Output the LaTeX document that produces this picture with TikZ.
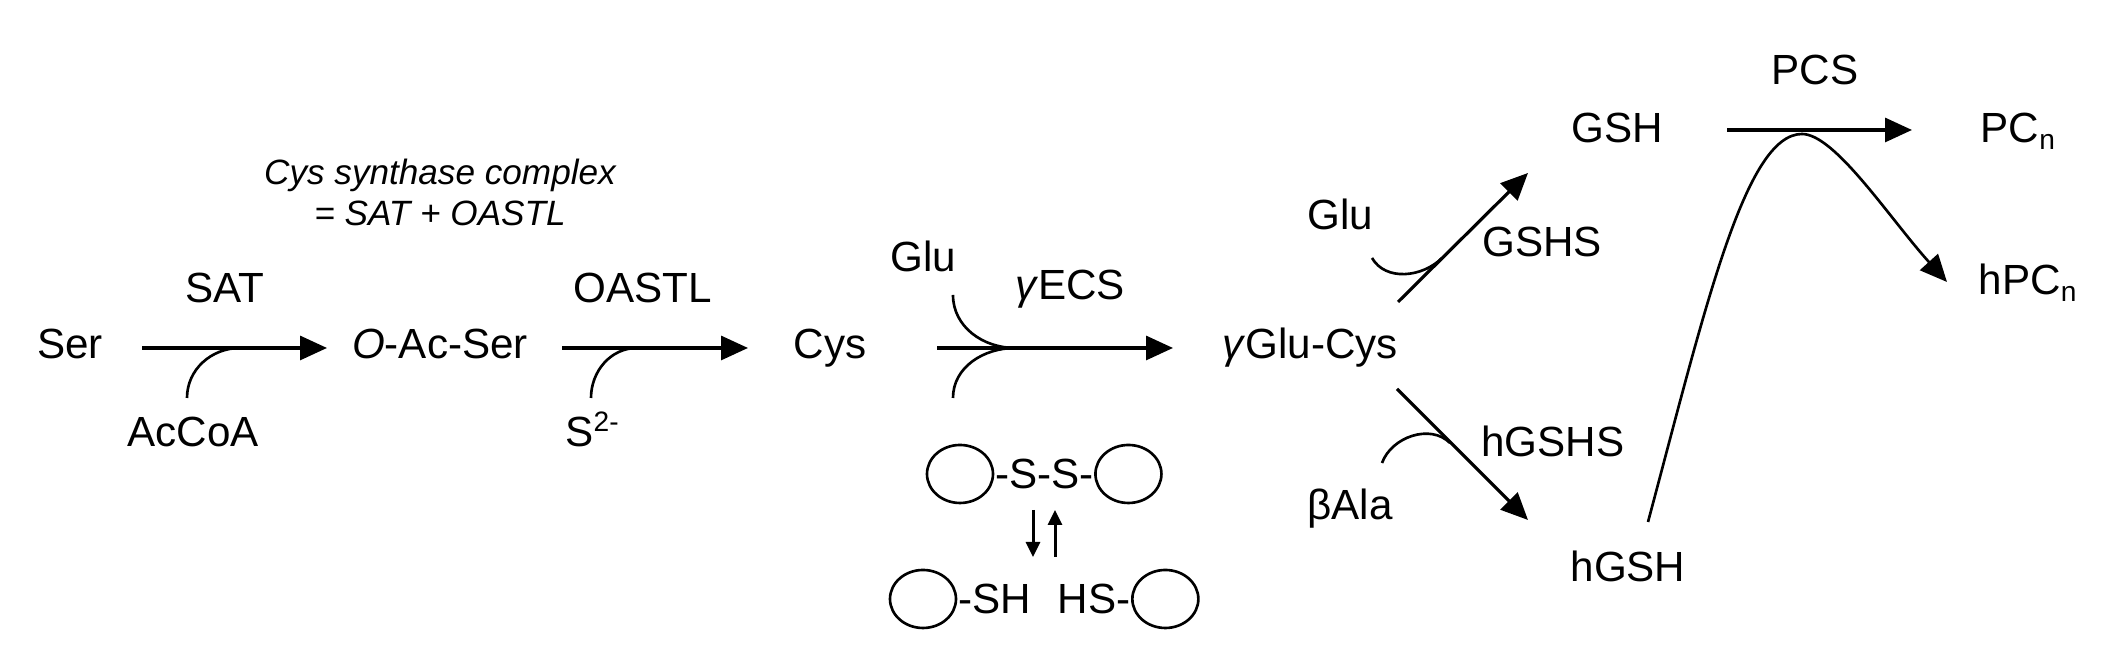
\documentclass[tikz,border=0pt]{standalone}
\usepackage{fontspec}
\setmainfont{Liberation Sans}
\usepackage{tikz}
\usetikzlibrary{positioning,arrows.meta,shapes.geometric}

\begin{document}
\begin{tikzpicture}[
  font=\fontsize{12}{14}\selectfont,
  mol/.style={anchor=base, inner sep=0pt},
  note/.style={anchor=north, inner sep=0pt, align=center,
               font=\fontsize{10}{11.7}\selectfont\itshape},
  arr/.style={-{Triangle[length=0.27cm, width=0.24cm]}, line width=0.9pt},
  side/.style={line width=0.75pt},
  eqarr/.style={-{Triangle[length=0.15cm, width=0.14cm]}, line width=0.85pt},
  blob/.style={draw, ellipse, line width=0.75pt, inner sep=0pt,
               minimum width=0.66cm, minimum height=0.58cm},
]
\useasboundingbox (0,0) rectangle (21.06,6.59);

% Cys synthesis
\node[note] (csc)   at (4.40,5.01) {Cys synthase complex\\= SAT + OASTL};
\node[mol]  (ser)   at (0.70,3.00) {Ser};
\node[mol]  (oas)   at (4.40,3.00) {\textit{O}-Ac-Ser};
\node[mol]  (cys)   at (8.30,3.00) {Cys};
\node[mol]  (sat)   at (2.25,3.56) {SAT};
\node[mol]  (oastl) at (6.43,3.56) {OASTL};
\node[mol]  (accoa) at (1.93,2.12) {AcCoA};
\node[mol]  (sulf)  at (5.93,2.12) {S\textsuperscript{2-}};

\coordinate (r1a) at (1.42,3.11);  \coordinate (r1b) at (3.27,3.11);
\coordinate (r2a) at (5.62,3.11);  \coordinate (r2b) at (7.48,3.11);
\coordinate (j1)  at (2.40,3.11);  \coordinate (s1)  at (1.87,2.61);
\coordinate (j2)  at (6.37,3.11);  \coordinate (s2)  at (5.91,2.61);

\draw[arr] (r1a) -- (r1b);
\draw[arr] (r2a) -- (r2b);
\draw[side] (s1) to[out=90, in=180] (j1);
\draw[side] (s2) to[out=90, in=180] (j2);

% gamma-ECS step with the redox switch
\node[mol] (gec)  at (13.10,3.00) {\textit{γ}Glu-Cys};
\node[mol] (glua) at (9.23,3.87) {Glu};
\node[mol] (gecs) at (10.70,3.59) {\textit{γ}ECS};

\coordinate (r3a) at (9.37,3.11);   \coordinate (r3b) at (11.73,3.11);
\coordinate (j3)  at (10.15,3.11);
\coordinate (s3u) at (9.53,3.64);   \coordinate (s3d) at (9.53,2.61);

\draw[arr] (r3a) -- (r3b);
\draw[side] (s3u) to[out=-90, in=180] (j3);
\draw[side] (s3d) to[out=90, in=180] (j3);

\node[blob] (pl1) at (9.60,1.85) {};
\node[mol, right=0pt of pl1] (ss) {-S-S-};
\node[blob, right=0pt of ss] (pr1) {};
\node[blob] (pl2) at (9.23,0.60) {};
\node[mol, right=0pt of pl2] (sh) {-SH};
\node[mol, anchor=west] (hs) at (10.57,0.60) {HS-};
\node[blob, right=0pt of hs] (pr2) {};

\coordinate (eqa) at (10.33,1.49);  \coordinate (eqb) at (10.33,1.02);
\coordinate (eqc) at (10.55,1.02);  \coordinate (eqd) at (10.55,1.49);
\draw[eqarr] (eqa) -- (eqb);
\draw[eqarr] (eqc) -- (eqd);

% GSH / hGSH branches
\node[mol] (gsh)   at (16.17,5.16) {GSH};
\node[mol] (hgsh)  at (16.28,0.77) {hGSH};
\node[mol] (glub)  at (13.40,4.29) {Glu};
\node[mol] (gshs)  at (15.42,4.02) {GSHS};
\node[mol] (bala)  at (13.50,1.39) {βAla};
\node[mol] (hgshs) at (15.53,2.02) {hGSHS};

\coordinate (r4a) at (13.98,3.57);  \coordinate (r4b) at (15.28,4.86);
\coordinate (r5a) at (13.97,2.70);  \coordinate (r5b) at (15.28,1.39);
\coordinate (j4)  at (14.42,4.01);  \coordinate (s4)  at (13.72,4.01);
\coordinate (j5)  at (14.50,2.16);  \coordinate (s5)  at (13.82,1.96);

\draw[arr] (r4a) -- (r4b);
\draw[arr] (r5a) -- (r5b);
\draw[side] (s4) to[out=-60, in=-135] (j4);
\draw[side] (s5) to[out=70, in=135] (j5);

% phytochelatins
\node[mol] (pcs) at (18.15,5.74) {PCS};
\node[mol, anchor=base west] (pcn)  at (19.80,5.16) {PC\textsubscript{n}};
\node[mol, anchor=base west] (hpcn) at (19.78,3.64) {hPC\textsubscript{n}};

\coordinate (r6a) at (17.27,5.29);  \coordinate (r6b) at (19.12,5.29);
\coordinate (s6)  at (16.48,1.37);  \coordinate (top) at (18.02,5.25);
\coordinate (r7b) at (19.47,3.77);

\draw[arr] (r6a) -- (r6b);
\draw[side] (s6) .. controls (17.05,3.50) and (17.45,5.25) .. (top);
\draw[arr, line width=0.75pt] (top) .. controls (18.35,5.25) and (18.90,4.40) .. (r7b);
\end{tikzpicture}
\end{document}
